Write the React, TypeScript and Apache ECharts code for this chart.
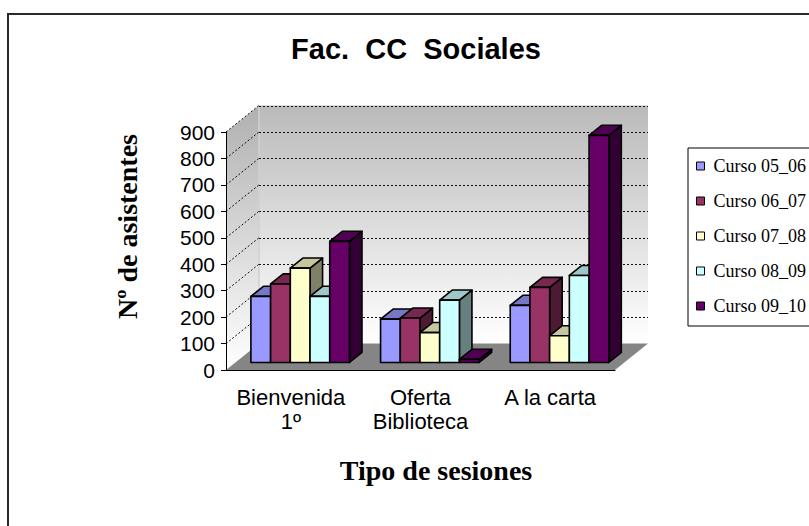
import React, { useEffect, useRef } from "react";
import * as echarts from "echarts";

const categories = ["Bienvenida\n1º", "Oferta\nBiblioteca", "A la carta"];
const seriesNames = ["Curso 05_06", "Curso 06_07", "Curso 07_08", "Curso 08_09", "Curso 09_10"];
const curso0506 = [250, 164, 216];
const curso0607 = [297, 168, 284];
const curso0708 = [357, 113, 101];
const curso0809 = [250, 236, 329];
const curso0910 = [458, 12, 859];
const seriesValues = [curso0506, curso0607, curso0708, curso0809, curso0910];
const colors = ["#9999FF", "#993366", "#FFFFCC", "#CCFFFF", "#660066"];
const Y_MIN = 0;
const Y_MAX = 900;
const Y_STEP = 100;

const TITLE = "Fac.  CC  Sociales";
const X_TITLE = "Tipo de sesiones";
const Y_TITLE = "Nº de asistentes";

// 3D projection constants (visual style)
const DX = 33;
const DY = -26.5;
const FRONT = 0.283;
const BDEPTH = 0.38;
const BAR_W = 0.152;

function shade(hex: string, f: number) {
  const n = parseInt(hex.slice(1), 16);
  const r = Math.round(((n >> 16) & 255) * f);
  const g = Math.round(((n >> 8) & 255) * f);
  const b = Math.round((n & 255) * f);
  return `rgb(${r},${g},${b})`;
}

const crisp = (y: number) => Math.round(y) + 0.5;

const wallsRender = (_params: any, api: any) => {
  const catW = api.size([1, 0])[0];
  const first = api.coord([0, Y_MIN]);
  const last = api.coord([categories.length - 1, Y_MIN]);
  const xl = first[0] - catW / 2;
  const xr = last[0] + catW / 2;
  const y0 = first[1];
  const yTop = api.coord([0, Y_MAX])[1];
  const wallGrad = new echarts.graphic.LinearGradient(0, 0, 0, 1, [
    { offset: 0, color: "#bababa" },
    { offset: 1, color: "#ffffff" },
  ]);
  const leftGrad = new echarts.graphic.LinearGradient(0, 0, 0, 1, [
    { offset: 0, color: "#b0b0b0" },
    { offset: 1, color: "#ffffff" },
  ]);
  const children: any[] = [
    {
      type: "polygon",
      shape: { points: [[xl, y0], [xl, yTop], [xl + DX, yTop + DY], [xl + DX, y0 + DY]] },
      style: { fill: leftGrad },
    },
    {
      type: "rect",
      shape: { x: xl + DX, y: yTop + DY, width: xr - xl, height: y0 - yTop },
      style: { fill: wallGrad },
    },
    {
      type: "line",
      shape: { x1: xl + DX, y1: yTop + DY, x2: xl + DX, y2: y0 + DY },
      style: { stroke: "#d0d0d0", lineWidth: 1.5 },
    },
    {
      type: "polygon",
      shape: { points: [[xl, y0], [xl + DX, y0 + DY], [xr + DX, y0 + DY], [xr, y0]] },
      style: { fill: "#858585" },
    },
  ];
  for (let v = Y_MIN + Y_STEP; v <= Y_MAX; v += Y_STEP) {
    const yv = api.coord([0, v])[1];
    children.push({
      type: "line",
      shape: { x1: xl + DX, y1: crisp(yv + DY), x2: xr + DX, y2: crisp(yv + DY) },
      style: { stroke: "#111", lineWidth: 1, lineDash: [2, 2] },
    });
    children.push({
      type: "line",
      shape: { x1: xl, y1: yv, x2: xl + DX, y2: yv + DY },
      style: { stroke: "#111", lineWidth: 1, lineDash: [2, 2] },
    });
  }
  return { type: "group", children };
};

const makeBarRender = (si: number) => (_params: any, api: any) => {
  const cat = api.value(0);
  const v = api.value(1);
  const base = api.coord([cat, Y_MIN]);
  const top = api.coord([cat, v]);
  const catW = api.size([1, 0])[0];
  const w = catW * BAR_W;
  const fx = DX * FRONT;
  const fy = DY * FRONT;
  const bx = DX * BDEPTH;
  const by = DY * BDEPTH;
  const n = seriesNames.length;
  const x0 = base[0] - (n / 2) * w + si * w + fx;
  const x1 = x0 + w;
  const yb = base[1] + fy;
  const yt = top[1] + fy;
  const c = colors[si];
  const border = { stroke: "#000", lineWidth: 1.6, lineJoin: "round" };
  return {
    type: "group",
    children: [
      {
        type: "polygon",
        shape: { points: [[x1, yb], [x1, yt], [x1 + bx, yt + by], [x1 + bx, yb + by]] },
        style: { fill: shade(c, 0.5), ...border },
      },
      {
        type: "polygon",
        shape: { points: [[x0, yt], [x1, yt], [x1 + bx, yt + by], [x0 + bx, yt + by]] },
        style: { fill: shade(c, 0.78), ...border },
      },
      {
        type: "rect",
        shape: { x: x0, y: yt, width: w, height: Math.max(yb - yt, 0) },
        style: { fill: c, ...border },
      },
    ],
  };
};

export default function App() {
  const ref = useRef<HTMLDivElement>(null);
  useEffect(() => {
    if (!ref.current) return;
    const chart = echarts.init(ref.current, undefined, { renderer: "svg" });
    const barSeries = seriesNames.map((name, si) => ({
      type: "custom",
      name,
      z: 3,
      clip: false,
      renderItem: makeBarRender(si),
      itemStyle: { color: colors[si], borderColor: "#000", borderWidth: 1 },
      encode: { x: 0, y: 1 },
      data: seriesValues[si].map((v, ci) => [ci, v]),
    }));
    chart.setOption({
      animation: false,
      backgroundColor: "transparent",
      graphic: [
        {
          type: "rect",
          z: -10,
          shape: { x: 8, y: 14, width: 900, height: 600 },
          style: { fill: "#fff", stroke: "#2a2a2a", lineWidth: 2 },
        },
        {
          type: "text",
          x: 416,
          y: 49,
          style: {
            text: TITLE,
            fontFamily: "Liberation Sans, Arial",
            fontWeight: "bold",
            fontSize: 29,
            fill: "#000",
            textAlign: "center",
            textVerticalAlign: "middle",
          },
        },
        {
          type: "text",
          x: 436,
          y: 470.5,
          style: {
            text: X_TITLE,
            fontFamily: "Liberation Serif, Times New Roman",
            fontWeight: "bold",
            fontSize: 28,
            fill: "#000",
            textAlign: "center",
            textVerticalAlign: "middle",
          },
        },
        {
          type: "text",
          x: 127.5,
          y: 226.5,
          rotation: Math.PI / 2,
          style: {
            text: Y_TITLE,
            fontFamily: "Liberation Serif, Times New Roman",
            fontWeight: "bold",
            fontSize: 28,
            fill: "#000",
            textAlign: "center",
            textVerticalAlign: "middle",
          },
        },
      ],
      legend: {
        orient: "vertical",
        left: 688,
        top: 148,
        padding: [9, 12, 11, 8],
        itemGap: 17,
        itemWidth: 8,
        itemHeight: 8,
        icon: "rect",
        borderColor: "#000",
        borderWidth: 1,
        data: seriesNames,
        itemStyle: { borderColor: "#000", borderWidth: 1 },
        textStyle: {
          fontFamily: "Liberation Serif, Times New Roman",
          fontSize: 18,
          color: "#000",
          lineHeight: 18,
          padding: [0, 0, 0, 4],
        },
      },
      grid: { left: 226, right: 194, top: 132, bottom: 156 },
      xAxis: {
        type: "category",
        data: categories,
        z: 10,
        axisLine: { lineStyle: { color: "#000", width: 1 } },
        axisTick: { length: 5, lineStyle: { color: "#000" } },
        axisLabel: {
          fontFamily: "Liberation Sans, Arial",
          fontSize: 22,
          lineHeight: 24,
          color: "#000",
          margin: 15,
          interval: 0,
        },
        splitLine: { show: false },
      },
      yAxis: {
        type: "value",
        min: Y_MIN,
        max: Y_MAX,
        interval: Y_STEP,
        z: 10,
        axisLine: { show: true, lineStyle: { color: "#000", width: 1 } },
        axisTick: { show: true, length: 5, lineStyle: { color: "#000" } },
        axisLabel: {
          fontFamily: "Liberation Sans, Arial",
          fontSize: 21,
          color: "#000",
          margin: 11,
        },
        splitLine: { show: false },
      },
      series: [
        {
          type: "custom",
          name: "walls",
          z: 1,
          clip: false,
          silent: true,
          renderItem: wallsRender,
          encode: { x: 0, y: 1 },
          data: [[0, 0]],
        },
        ...barSeries,
      ],
    });
    return () => chart.dispose();
  }, []);
  return (
    <div
      ref={ref}
      style={{ position: "absolute", left: 0, top: 0, width: 809, height: 526 }}
    />
  );
}
